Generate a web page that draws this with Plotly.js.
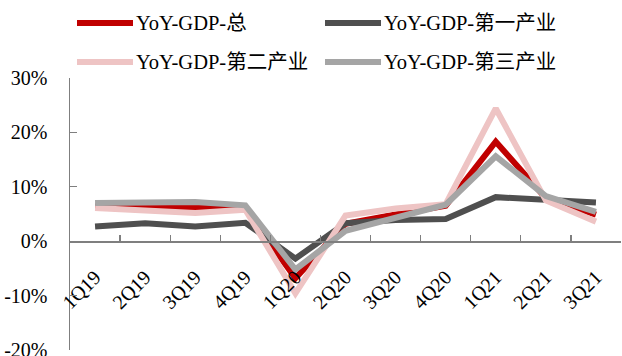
<!DOCTYPE html>
<html>
<head>
<meta charset="utf-8">
<script src="https://cdn.plot.ly/plotly-3.0.1.min.js"></script>
<style>
  html, body { margin: 0; padding: 0; background: #ffffff; }
  #chart { width: 622px; height: 356px; }
</style>
</head>
<body>
<div id="chart"></div>
<script>
// Quarterly YoY real GDP growth (%), total and by sector
const quarters = ['1Q19', '2Q19', '3Q19', '4Q19', '1Q20', '2Q20', '3Q20', '4Q20', '1Q21', '2Q21', '3Q21'];
const gdpTotal     = [6.4, 6.2, 6.0, 6.0, -6.8, 3.2, 4.9, 6.5, 18.3, 7.9, 4.9];
const gdpPrimary   = [2.7, 3.3, 2.7, 3.4, -3.2, 3.3, 3.9, 4.1, 8.1, 7.6, 7.1];
const gdpSecondary = [6.1, 5.6, 5.2, 5.8, -9.6, 4.7, 6.0, 6.8, 24.4, 7.5, 3.6];
const gdpTertiary  = [7.0, 7.0, 7.2, 6.6, -5.2, 1.9, 4.3, 6.7, 15.6, 8.3, 5.4];

const seriesNames = ['YoY-GDP-总', 'YoY-GDP-第一产业', 'YoY-GDP-第二产业', 'YoY-GDP-第三产业'];
const seriesColors = ['#C00000', '#4F4F4F', '#EEC4C4', '#A5A5A5'];
const yTickVals = [-20, -10, 0, 10, 20, 30];
const yTickText = ['-20%', '-10%', '0%', '10%', '20%', '30%'];

const FONT = '"Times New Roman", "Liberation Serif", "Noto Sans CJK SC", serif';
const W = 622, H = 356;
const M = { l: 70, r: 1, t: 78, b: 6 };
const plotW = W - M.l - M.r, plotH = H - M.t - M.b;
const px = x => (x - M.l) / plotW;          // pixel -> paper x
const py = y => (H - M.b - y) / plotH;      // pixel -> paper y

const seriesData = [gdpTotal, gdpPrimary, gdpSecondary, gdpTertiary];
const traces = seriesData.map((vals, i) => ({
  type: 'scatter',
  mode: 'lines',
  x: quarters,
  y: vals,
  name: seriesNames[i],
  showlegend: false,
  line: { color: seriesColors[i], width: 6 },
  hoverinfo: 'skip'
}));

// Two-row, two-column key above the plot
const keyPos = [
  { x: 77, y: 23 }, { x: 325, y: 23 },
  { x: 77, y: 62 }, { x: 325, y: 62 }
];
const shapes = [], annotations = [];
keyPos.forEach((p, i) => {
  shapes.push({
    type: 'line', xref: 'paper', yref: 'paper',
    x0: px(p.x), x1: px(p.x + 56), y0: py(p.y), y1: py(p.y),
    line: { color: seriesColors[i], width: 6 }
  });
  annotations.push({
    xref: 'paper', yref: 'paper', x: px(p.x + 57), y: py(p.y),
    xanchor: 'left', yanchor: 'middle', showarrow: false,
    text: seriesNames[i],
    font: { family: FONT, size: 20.5, color: '#000000' }
  });
});

const layout = {
  width: W, height: H,
  margin: M,
  paper_bgcolor: '#ffffff',
  plot_bgcolor: '#ffffff',
  showlegend: false,
  font: { family: FONT, size: 20, color: '#000000' },
  xaxis: {
    type: 'category',
    range: [-0.5, 10.5],
    anchor: 'free',
    position: 0.4,
    showline: true, linecolor: '#7F7F7F', linewidth: 1.5,
    ticks: 'inside', ticklen: 6, tickwidth: 1.3, tickcolor: '#7F7F7F',
    tickson: 'boundaries',
    tickangle: -45,
    ticklabelstandoff: 15,
    ticklabeloverflow: 'allow',
    showgrid: false, zeroline: false,
    automargin: false,
    tickfont: { family: FONT, size: 20, color: '#000000' }
  },
  yaxis: {
    range: [-20, 30],
    tickvals: yTickVals,
    ticktext: yTickText,
    showline: true, linecolor: '#7F7F7F', linewidth: 1.5,
    ticks: 'inside', ticklen: 7, tickwidth: 1.3, tickcolor: '#7F7F7F',
    ticklabelstandoff: 17,
    ticklabeloverflow: 'allow',
    showgrid: false, zeroline: false,
    automargin: false,
    tickfont: { family: FONT, size: 20, color: '#000000' }
  },
  shapes: shapes,
  annotations: annotations
};

Plotly.newPlot('chart', traces, layout, { staticPlot: true, displayModeBar: false });
</script>
</body>
</html>
